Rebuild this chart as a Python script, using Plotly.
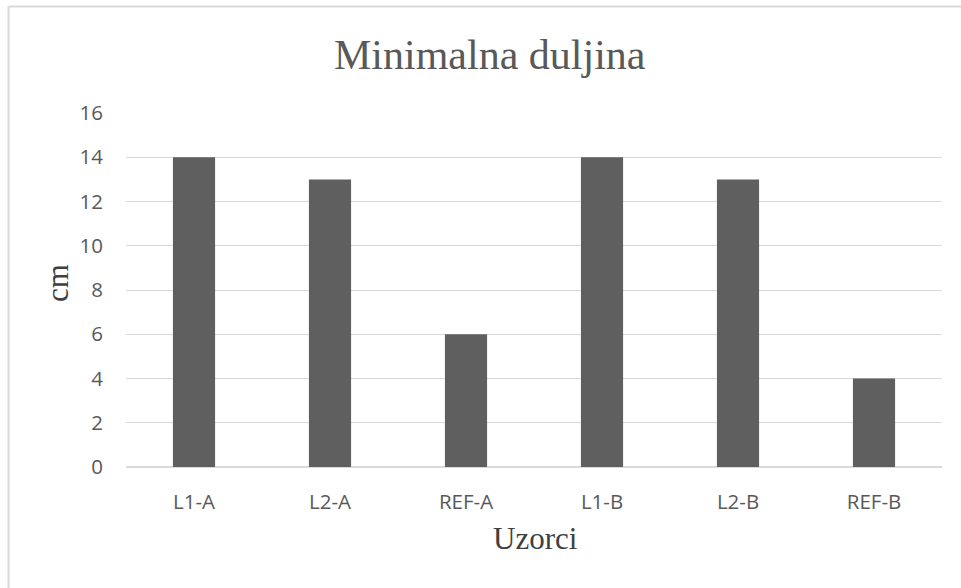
import plotly.graph_objects as go

categories = ["L1-A", "L2-A", "REF-A", "L1-B", "L2-B", "REF-B"]
values = [14, 13, 6, 14, 13, 4]
y_ticks = [0, 2, 4, 6, 8, 10, 12, 14, 16]

W, H = 961, 588
L, R, T, B = 126, 942, 113, 467
pw, ph = R - L, B - T

def px(x):
    return (x - L) / pw

def py(y):
    return (B - y) / ph

fig = go.Figure(go.Bar(x=categories, y=values, marker=dict(color="#5f5f5f", line=dict(width=0))))

fig.update_layout(
    width=W, height=H,
    margin=dict(l=L, r=W - R, t=T, b=H - B, autoexpand=False),
    paper_bgcolor="white", plot_bgcolor="white",
    bargap=0.69,
    showlegend=False,
    xaxis=dict(
        showgrid=False, showline=False, zeroline=False,
        ticks="", tickfont=dict(family="Open Sans", size=20.5, color="#595959"),
        ticklabelstandoff=20,
    ),
    yaxis=dict(
        range=[0, 16], tickvals=y_ticks, showgrid=True, gridcolor="#d9d9d9", gridwidth=1.3,
        zeroline=True, zerolinecolor="#d9d9d9", zerolinewidth=1.5, showline=False,
        ticks="", tickfont=dict(family="Open Sans", size=20.5, color="#595959"),
        ticklabelstandoff=22,
    ),
    annotations=[
        dict(text="Minimalna duljina", xref="paper", yref="paper", x=px(490), y=py(55),
             xanchor="center", yanchor="middle", showarrow=False,
             font=dict(family="Liberation Serif", size=42, color="#595959")),
        dict(text="Uzorci", xref="paper", yref="paper", x=px(535), y=py(538),
             xanchor="center", yanchor="middle", showarrow=False,
             font=dict(family="Liberation Serif", size=31, color="#404040")),
        dict(text="cm", xref="paper", yref="paper", x=px(57), y=py(283),
             xanchor="center", yanchor="middle", showarrow=False, textangle=-90,
             font=dict(family="Liberation Serif", size=31, color="#404040")),
    ],
    shapes=[
        dict(type="line", xref="paper", yref="paper", x0=px(8.5), x1=px(8.5), y0=py(6.5), y1=py(600),
             line=dict(color="#d9d9d9", width=2)),
        dict(type="line", xref="paper", yref="paper", x0=px(8.5), x1=px(970), y0=py(6.5), y1=py(6.5),
             line=dict(color="#d9d9d9", width=2)),
    ],
)

fig.write_html(
    "out.html",
    config={"displayModeBar": False},
    post_script="document.body.style.margin='0';document.body.style.overflow='hidden';",
)
